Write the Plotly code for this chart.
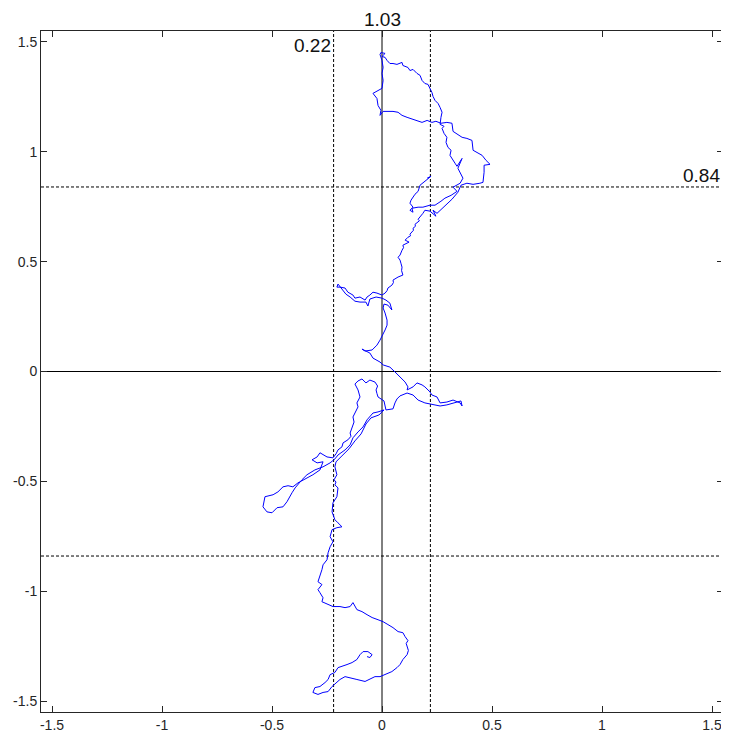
import plotly.graph_objects as go

# Trajectory in data units, split into consecutive pieces
# top part: start near (0.2, 0.88), top loop, outer lobe, down to the 0.84 line
seg1_x = [
    0.205, 0.223, 0.200, 0.173, 0.164, 0.150, 0.132, 0.127, 0.141, 0.127,
    0.141, 0.136, 0.164, 0.186, 0.218, 0.241, 0.268, 0.286, 0.314, 0.341,
    0.323, 0.355, 0.368, 0.355, 0.345, 0.364, 0.341, 0.332, 0.323, 0.309,
    0.314, 0.300, 0.291, 0.295, 0.282, 0.273, 0.282, 0.264, 0.268, 0.273,
    0.264, 0.255, 0.241, 0.232, 0.227, 0.218, 0.209, 0.195, 0.182, 0.173,
    0.159, 0.141, 0.127, 0.118, 0.095, 0.091, 0.068, 0.050, 0.036, 0.023,
    0.014, 0.000, 0.014, -0.005, -0.009, 0.000, 0.005, 0.000, 0.005, 0.000,
    -0.018, -0.032, -0.041, -0.023, -0.018, -0.005, -0.009, 0.005, 0.023, 0.050,
    0.073, 0.091, 0.114, 0.127, 0.159, 0.182, 0.205, 0.227, 0.245, 0.268,
    0.295, 0.318, 0.323, 0.345, 0.364, 0.386, 0.409, 0.414, 0.432, 0.455,
    0.473, 0.491, 0.464, 0.464, 0.459, 0.445, 0.414, 0.386, 0.359, 0.345,
    0.318, 0.291, 0.264, 0.250, 0.232, 0.245, 0.218, 0.195, 0.186,
]
seg1_y = [
    0.880, 0.889, 0.870, 0.848, 0.820, 0.807, 0.780, 0.766, 0.748, 0.734,
    0.725, 0.743, 0.748, 0.748, 0.757, 0.757, 0.775, 0.789, 0.802, 0.820,
    0.839, 0.857, 0.880, 0.902, 0.925, 0.970, 0.934, 0.948, 0.961, 0.984,
    1.007, 1.020, 1.043, 1.066, 1.084, 1.107, 1.116, 1.125, 1.157, 1.180,
    1.202, 1.220, 1.234, 1.252, 1.270, 1.289, 1.307, 1.311, 1.325, 1.348,
    1.357, 1.375, 1.370, 1.384, 1.393, 1.407, 1.398, 1.402, 1.402, 1.416,
    1.430, 1.434, 1.448, 1.452, 1.443, 1.416, 1.384, 1.357, 1.325, 1.289,
    1.280, 1.270, 1.266, 1.243, 1.211, 1.189, 1.166, 1.184, 1.184, 1.184,
    1.180, 1.166, 1.157, 1.152, 1.143, 1.134, 1.143, 1.134, 1.139, 1.130,
    1.134, 1.130, 1.093, 1.080, 1.066, 1.061, 1.052, 1.007, 0.998, 0.984,
    0.961, 0.943, 0.939, 0.907, 0.861, 0.857, 0.852, 0.857, 0.848, 0.816,
    0.784, 0.757, 0.734, 0.720, 0.734, 0.707, 0.730, 0.734, 0.720,
]
# descent from the 0.84 line to the zero crossing
seg2_x = [
    0.173, 0.164, 0.170, 0.159, 0.150, 0.152, 0.141, 0.143, 0.136, 0.127,
    0.130, 0.118, 0.105, 0.123, 0.095, 0.098, 0.091, 0.086, 0.082, 0.073,
    0.082, 0.086, 0.091, 0.089, 0.095, 0.073, 0.064, 0.050, 0.052, 0.045,
    0.027, 0.023, 0.014, 0.000,
]
seg2_y = [
    0.702, 0.693, 0.686, 0.675, 0.670, 0.661, 0.652, 0.643, 0.634, 0.625,
    0.618, 0.611, 0.598, 0.589, 0.575, 0.564, 0.552, 0.541, 0.530, 0.520,
    0.507, 0.493, 0.475, 0.459, 0.439, 0.430, 0.423, 0.416, 0.405, 0.393,
    0.380, 0.368, 0.357, 0.348,
]
# left spur at y~0.35, crossing y=0, right spur at y~-0.15
seg3_x = [
    -0.023,
    -0.041, -0.055, -0.068, -0.077, -0.100, -0.123, -0.132, -0.155, -0.168, -0.191,
    -0.205, -0.200, -0.182, -0.164, -0.145, -0.123, -0.100, -0.073, -0.064, -0.055,
    -0.027, 0.000, 0.018, 0.036, 0.045, 0.027, 0.009, 0.005, 0.014, 0.023,
    0.023, 0.014, -0.009, -0.023, -0.045, -0.077, -0.091, -0.055, -0.041, -0.009,
    0.005, 0.036, 0.059, 0.082, 0.105, 0.118, 0.114, 0.141, 0.159, 0.182,
    0.195, 0.218, 0.227, 0.250, 0.264, 0.295, 0.323, 0.355, 0.364, 0.359,
    0.332, 0.295, 0.264, 0.232, 0.195, 0.164, 0.141, 0.114, 0.082, 0.068,
    0.059, 0.050, 0.018,
]
seg3_y = [
    0.357,
    0.361, 0.348, 0.339, 0.325, 0.339, 0.334, 0.348, 0.361, 0.380, 0.384,
    0.384, 0.398, 0.375, 0.352, 0.339, 0.320, 0.316, 0.316, 0.298, 0.330,
    0.339, 0.334, 0.325, 0.311, 0.280, 0.302, 0.307, 0.289, 0.266, 0.234,
    0.211, 0.189, 0.143, 0.120, 0.098, 0.093, 0.102, 0.084, 0.061, 0.043,
    0.030, 0.020, -0.002, -0.025, -0.048, -0.070, -0.084, -0.070, -0.052, -0.061,
    -0.070, -0.093, -0.107, -0.116, -0.143, -0.139, -0.130, -0.143, -0.157, -0.134,
    -0.143, -0.152, -0.157, -0.152, -0.143, -0.130, -0.107, -0.098, -0.111, -0.125,
    -0.143, -0.170, -0.175,
]
# inner column going down-left to the knot near (-0.22, -0.4)
seg4_x = [
    0.009, -0.018, -0.023, -0.027, -0.020, -0.032, -0.055, -0.073, -0.091, -0.109,
    -0.123, -0.115, -0.109, -0.100, -0.114, -0.109, -0.120, -0.127, -0.132, -0.127,
    -0.136, -0.145, -0.141, -0.155, -0.177, -0.182, -0.200, -0.209, -0.223,
]
seg4_y = [
    -0.134, -0.116, -0.100, -0.084, -0.066, -0.048, -0.039, -0.052, -0.034, -0.043,
    -0.057, -0.070, -0.084, -0.116, -0.143, -0.161, -0.182, -0.195, -0.207, -0.230,
    -0.252, -0.280, -0.295, -0.311, -0.325, -0.343, -0.357, -0.375, -0.393,
]
# left lobe, outer column up and back, start of the lower descent
seg5_x = [
    -0.250, -0.282, -0.295, -0.318, -0.295, -0.268, -0.282,
    -0.314, -0.341, -0.382, -0.405, -0.427, -0.450, -0.473, -0.495, -0.532, -0.541,
    -0.523, -0.500, -0.477, -0.450, -0.432, -0.409, -0.395, -0.364, -0.341, -0.305,
    -0.268, -0.236, -0.214, -0.200, -0.168, -0.145, -0.132, -0.109, -0.086, -0.068,
    -0.041, -0.018, 0.009, -0.014, -0.050, -0.073, -0.095, -0.123, -0.150, -0.182,
    -0.209, -0.214, -0.205, -0.218, -0.209,
]
seg5_y = [
    -0.389, -0.370, -0.389, -0.402, -0.416, -0.411, -0.448,
    -0.470, -0.484, -0.507, -0.525, -0.520, -0.525, -0.548, -0.561, -0.570, -0.616,
    -0.639, -0.643, -0.620, -0.616, -0.593, -0.552, -0.530, -0.493, -0.470, -0.448,
    -0.434, -0.416, -0.398, -0.380, -0.357, -0.334, -0.302, -0.275, -0.252, -0.220,
    -0.189, -0.184, -0.175, -0.198, -0.211, -0.239, -0.284, -0.316, -0.352, -0.384,
    -0.411, -0.434, -0.470, -0.493, -0.503,
]
# descent to the bottom bulge
seg6_x = [
    -0.214, -0.200, -0.205, -0.223, -0.227, -0.214, -0.200,
    -0.182, -0.205, -0.227, -0.236, -0.223, -0.236, -0.245, -0.250, -0.268, -0.273,
    -0.282, -0.291, -0.273, -0.291, -0.282, -0.268, -0.273, -0.245, -0.223, -0.191,
    -0.168, -0.145, -0.132, -0.114, -0.091, -0.068, -0.045, -0.018, 0.005, 0.027,
    0.050, 0.073, 0.095, 0.105, 0.118, 0.110,
]
seg6_y = [
    -0.516, -0.530, -0.570, -0.598, -0.639, -0.675, -0.689,
    -0.707, -0.711, -0.720, -0.752, -0.775, -0.798, -0.825, -0.857, -0.880, -0.902,
    -0.925, -0.957, -0.970, -0.993, -1.007, -1.030, -1.048, -1.061, -1.070, -1.070,
    -1.075, -1.070, -1.052, -1.084, -1.093, -1.107, -1.120, -1.130, -1.139, -1.152,
    -1.166, -1.184, -1.189, -1.207, -1.225, -1.238,
]
# bottom bulge, lower-left tip and end of the walk
seg7_x = [
    0.114, 0.120, 0.114, 0.095, 0.082, 0.068, 0.045,
    0.014, -0.009, -0.032, -0.055, -0.077, -0.114, -0.145, -0.168, -0.191, -0.205,
    -0.227, -0.245, -0.268, -0.291, -0.314, -0.305, -0.282, -0.259, -0.245, -0.236,
    -0.214, -0.200, -0.182, -0.159, -0.136, -0.114, -0.100, -0.086, -0.064, -0.045,
    -0.055, -0.068,
]
seg7_y = [
    -1.252, -1.270, -1.289, -1.311, -1.334, -1.348, -1.366,
    -1.380, -1.389, -1.389, -1.402, -1.411, -1.402, -1.393, -1.389, -1.402, -1.416,
    -1.434, -1.457, -1.461, -1.470, -1.461, -1.439, -1.434, -1.416, -1.402, -1.380,
    -1.370, -1.348, -1.343, -1.334, -1.325, -1.311, -1.289, -1.275, -1.275, -1.289,
    -1.302, -1.298,
]

segments_x = [seg1_x, seg2_x, seg3_x, seg4_x, seg5_x, seg6_x, seg7_x]
segments_y = [seg1_y, seg2_y, seg3_y, seg4_y, seg5_y, seg6_y, seg7_y]
for sx, sy in zip(segments_x, segments_y):
    assert len(sx) == len(sy), (len(sx), len(sy))
traj_x = [v for s in segments_x for v in s]
traj_y = [v for s in segments_y for v in s]

# Reference lines and their labels
sd_x = 0.22
sd_y = 0.84
label_top = "1.03"
label_sdx = "0.22"
label_sdy = "0.84"
label_right = "0.17"

tick_vals = [-1.5, -1, -0.5, 0, 0.5, 1, 1.5]
tick_text = ["-1.5", "-1", "-0.5", "0", "0.5", "1", "1.5"]
axis_range = [-1.55, 1.55]

fig = go.Figure()
fig.add_trace(go.Scatter(
    x=traj_x, y=traj_y, mode="lines",
    line=dict(color="#0000FF", width=1),
    showlegend=False, hoverinfo="skip",
))

black = "#000000"
dash = "3px,2px"
for v in (-sd_x, sd_x):
    fig.add_shape(type="line", xref="x", yref="paper", x0=v, x1=v, y0=0, y1=1,
                  line=dict(color=black, width=1, dash=dash), layer="below")
for v in (-sd_y, sd_y):
    fig.add_shape(type="line", xref="paper", yref="y", x0=0, x1=1, y0=v, y1=v,
                  line=dict(color=black, width=1, dash=dash), layer="below")
fig.add_shape(type="line", xref="x", yref="paper", x0=0, x1=0, y0=0, y1=1,
              line=dict(color=black, width=1), layer="below")
fig.add_shape(type="line", xref="paper", yref="y", x0=0, x1=1, y0=0, y1=0,
              line=dict(color=black, width=1), layer="below")

afont = dict(family="Liberation Sans, Arial, sans-serif", size=19, color="#111111")
fig.add_annotation(x=0, xref="x", y=1.0176, yref="paper", text=label_top,
                   showarrow=False, xanchor="center", yanchor="middle", font=afont)
fig.add_annotation(x=-sd_x, xref="x", y=0.979, yref="paper", text=label_sdx,
                   showarrow=False, xanchor="right", yanchor="middle", xshift=-1, font=afont)
fig.add_annotation(x=1, xref="paper", y=sd_y, yref="y", text=label_sdy,
                   showarrow=False, xanchor="right", yanchor="bottom", xshift=-1, yshift=-1,
                   font=afont)
fig.add_annotation(x=1, xref="paper", y=-0.02, yref="y", text=label_right,
                   showarrow=False, xanchor="left", yanchor="middle", xshift=2,
                   textangle=90, font=afont)

axis_common = dict(
    range=axis_range, tickvals=tick_vals, ticktext=tick_text,
    showgrid=False, zeroline=False, showline=True, linecolor="#262626", linewidth=1,
    mirror="ticks", ticks="inside", ticklen=6, tickcolor="#262626", tickwidth=1,
    tickfont=dict(family="Liberation Sans, Arial, sans-serif", size=14, color="#262626"),
)
fig.update_xaxes(automargin=False, **axis_common)
fig.update_yaxes(automargin=False, **axis_common)

# The page body adds an 8px offset at the top-left; sizes compensate for it.
fig.update_layout(
    width=721, height=728,
    margin=dict(l=33, r=6, t=23, b=24, pad=0),
    paper_bgcolor="white", plot_bgcolor="white",
)

fig.write_html("out.html")
